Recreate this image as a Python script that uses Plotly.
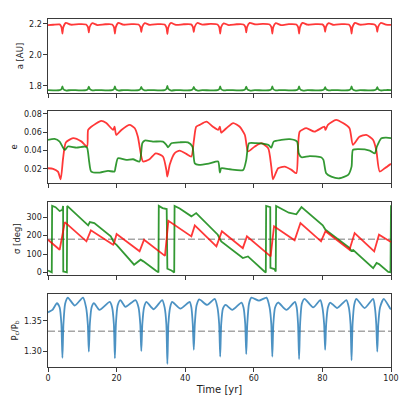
import plotly.graph_objects as go

# --- semi-major axis (knots) ---
t_a = [0, 1.5,
       3.4, 3.95, 4.2, 4.45, 5.2, 6.7, 9.0,
       11.1, 11.65, 11.9, 12.15, 12.9, 14.4, 16.7,
       18.7, 19.25, 19.5, 19.75, 20.5, 22.0, 24.3,
       26.4, 26.95, 27.2, 27.45, 28.2, 29.7, 32.0,
       34.0, 34.55, 34.8, 35.05, 35.8, 37.3, 39.6,
       41.7, 42.25, 42.5, 42.75, 43.5, 45.0, 47.3,
       49.4, 49.95, 50.2, 50.45, 51.2, 52.7, 55.0,
       57.0, 57.55, 57.8, 58.05, 58.8, 60.3, 62.6,
       64.6, 65.15, 65.4, 65.65, 66.4, 67.9, 70.2,
       72.4, 72.95, 73.2, 73.45, 74.2, 75.7, 78.0,
       80.0, 80.55, 80.8, 81.05, 81.8, 83.3, 85.6,
       87.7, 88.25, 88.5, 88.75, 89.5, 91.0, 93.3,
       95.2, 95.75, 96.0, 96.25, 97.0, 98.5, 100]
a_red = [2.193, 2.195,
         2.197, 2.178, 2.138, 2.178, 2.207, 2.195, 2.199,
         2.197, 2.180, 2.145, 2.180, 2.205, 2.193, 2.198,
         2.197, 2.178, 2.138, 2.178, 2.207, 2.195, 2.199,
         2.197, 2.180, 2.147, 2.180, 2.205, 2.194, 2.199,
         2.197, 2.176, 2.134, 2.176, 2.206, 2.194, 2.198,
         2.197, 2.180, 2.147, 2.180, 2.206, 2.196, 2.200,
         2.197, 2.178, 2.138, 2.178, 2.204, 2.193, 2.198,
         2.197, 2.180, 2.145, 2.180, 2.207, 2.198, 2.200,
         2.197, 2.178, 2.138, 2.178, 2.205, 2.193, 2.199,
         2.197, 2.178, 2.138, 2.178, 2.207, 2.195, 2.199,
         2.197, 2.181, 2.149, 2.181, 2.205, 2.194, 2.199,
         2.197, 2.178, 2.138, 2.178, 2.207, 2.195, 2.200,
         2.197, 2.181, 2.149, 2.181, 2.206, 2.196, 2.194]
a_green = [1.772, 1.771,
           1.772, 1.780, 1.797, 1.780, 1.770, 1.773, 1.771,
           1.772, 1.780, 1.795, 1.780, 1.771, 1.773, 1.771,
           1.772, 1.780, 1.797, 1.780, 1.770, 1.773, 1.771,
           1.772, 1.780, 1.794, 1.780, 1.771, 1.773, 1.771,
           1.772, 1.781, 1.799, 1.781, 1.770, 1.773, 1.771,
           1.772, 1.780, 1.794, 1.780, 1.770, 1.772, 1.771,
           1.772, 1.780, 1.797, 1.780, 1.771, 1.773, 1.771,
           1.772, 1.780, 1.795, 1.780, 1.770, 1.772, 1.771,
           1.772, 1.780, 1.797, 1.780, 1.771, 1.773, 1.771,
           1.772, 1.780, 1.797, 1.780, 1.770, 1.772, 1.771,
           1.772, 1.779, 1.792, 1.779, 1.771, 1.773, 1.771,
           1.772, 1.780, 1.797, 1.780, 1.770, 1.772, 1.771,
           1.772, 1.779, 1.792, 1.779, 1.770, 1.773, 1.773]

# --- eccentricity ---
t_e_red = [0, 1.5, 2.9, 3.7, 4.4, 5.2, 7.3, 9.7, 11.4, 11.7, 12.6, 15.5, 17.0, 19.0, 19.4, 19.9,
           21.4, 23.8, 25.3, 26.2, 27.2, 27.7, 29.6, 31.4, 33.5, 34.5, 34.8, 35.5, 36.9, 38.4,
           40.3, 41.8, 42.5, 43.2, 44.2, 46.2, 48.1, 49.6, 50.1, 50.5, 52.0, 54.0, 55.9, 57.4,
           57.8, 58.3, 60.3, 62.2, 64.2, 65.1, 65.6, 67.1, 69.0, 71.0, 72.4, 72.9, 73.4, 75.3,
           77.7, 80.6, 80.9, 81.6, 84.0, 86.0, 87.9, 88.9, 90.8, 92.8, 94.8, 95.7, 96.7, 98.2, 100]
e_red = [0.0207, 0.020, 0.017, 0.0087, 0.0316, 0.0487, 0.0535, 0.050, 0.0444, 0.0625, 0.066,
         0.0724, 0.070, 0.0625, 0.066, 0.057, 0.0625, 0.068, 0.0644, 0.055, 0.0335, 0.028,
         0.0305, 0.037, 0.0335, 0.0189, 0.0116, 0.0247, 0.037, 0.040, 0.0364, 0.0335, 0.050,
         0.066, 0.068, 0.0716, 0.066, 0.0625, 0.066, 0.0596, 0.0644, 0.070, 0.066, 0.057,
         0.048, 0.039, 0.0444, 0.048, 0.0425, 0.0225, 0.0087, 0.0207, 0.0225, 0.0189, 0.0153,
         0.044, 0.0607, 0.0644, 0.0607, 0.066, 0.0625, 0.068, 0.0735, 0.070, 0.0644, 0.0462,
         0.055, 0.0571, 0.0516, 0.0407, 0.0171, 0.0207, 0.0255]
t_e_green = [0, 1.9, 3.4, 4.2, 4.9, 5.8, 8.3, 10.7, 11.4, 12.0, 12.6, 15.1, 17.5, 19.4, 19.7,
             20.4, 22.8, 24.8, 26.7, 27.5, 28.2, 30.6, 33.5, 34.5, 35.0, 36.0, 38.4, 40.8, 42.1,
             42.8, 44.0, 47.1, 49.6, 50.1, 50.5, 53.0, 56.9, 57.8, 58.6, 60.7, 64.2, 65.1, 65.8,
             68.0, 70.5, 72.6, 73.1, 73.9, 76.3, 79.6, 80.3, 81.1, 82.6, 85.0, 87.5, 88.5, 88.9,
             90.4, 93.8, 95.3, 95.9, 97.2, 98.6, 100]
e_green = [0.0516, 0.0527, 0.0498, 0.0444, 0.0407, 0.0444, 0.0433, 0.0444, 0.043, 0.028, 0.0171,
           0.016, 0.0178, 0.0171, 0.022, 0.0316, 0.0298, 0.0305, 0.028, 0.048, 0.0509, 0.0498,
           0.0498, 0.0462, 0.0436, 0.048, 0.049, 0.049, 0.0444, 0.026, 0.0244, 0.026, 0.028,
           0.016, 0.0207, 0.0196, 0.0189, 0.0298, 0.048, 0.048, 0.0462, 0.0433, 0.0498, 0.0516,
           0.0524, 0.0498, 0.037, 0.0327, 0.034, 0.0327, 0.0298, 0.0153, 0.0116, 0.0098, 0.0135,
           0.0225, 0.0407, 0.0415, 0.040, 0.037, 0.0444, 0.0535, 0.054, 0.0535]

# --- resonant angle ---
t_s_red = [0, 3.4, 4.9, 11.2, 12.5, 13.1, 19.0, 19.3, 20.0, 26.7, 28.0, 34.1, 35.1, 41.8, 42.8,
           49.1, 50.7, 56.8, 58.0, 64.9, 65.9, 71.9, 73.6, 79.6, 80.9, 87.9, 89.4, 95.1, 96.5, 100]
s_red = [178, 123, 274, 169, 229, 222, 151, 160, 209, 115, 178, 90, 281, 196, 256,
         142, 224, 132, 196, 87, 251, 175, 269, 169, 224, 123, 214, 114, 205, 165]
t_s_green = [0, 0.8, 1.1, 1.2, 2.2, 3.4, 4.2, 4.4, 4.45, 5.0, 5.5, 5.6, 7.5, 10.7, 11.7, 12.2,
             13.5, 18.3, 19.3, 20.0, 25.1, 27.0, 27.8, 31.5, 32.2, 32.3, 33.4, 34.6, 34.8, 36.0,
             36.8, 36.9, 38.4, 41.8, 43.2, 49.5, 50.5, 56.8, 58.3, 63.1, 63.5, 63.6, 64.6, 64.8,
             64.85, 66.0, 66.4, 66.5, 70.2, 72.4, 73.9, 80.1, 80.9, 87.9, 88.4, 89.0, 94.8, 95.8,
             96.5, 99.2, 99.85, 99.9, 100]
s_green = [10, 3, 0, 362, 355, 334, 340, 362, 5, 3, 0, 362, 330, 278, 256, 274,
           268, 196, 160, 150, 42, 69, 60, 9, 0, 362, 350, 345, 20, 10,
           0, 362, 348, 305, 323, 205, 169, 78, 87, 5, 0, 362, 355, 355,
           25, 18, 5, 362, 325, 316, 355, 256, 232, 133, 117, 122, 23, 51,
           45, 2, 0, 365, 365]

# --- period ratio ---
t_p = [0, 1.3, 2.6, 3.4, 3.9, 4.2, 4.5, 5.0, 5.8, 7.8, 10.2, 11.1, 11.6, 11.9, 12.2, 12.7, 13.4,
       15.0, 18.0, 18.7, 19.2, 19.5, 19.8, 20.3, 21.1, 22.6, 25.5, 26.4, 26.9, 27.2, 27.5, 28.0,
       28.7, 30.8, 33.3, 34.0, 34.5, 34.8, 35.1, 35.6, 36.2, 38.6, 41.3, 41.8, 42.2, 42.5, 42.8,
       43.3, 44.1, 46.4, 48.6, 49.4, 49.9, 50.2, 50.5, 51.0, 51.8, 53.7, 56.4, 57.0, 57.5, 57.8,
       58.1, 58.6, 59.3, 61.5, 63.7, 64.6, 65.1, 65.4, 65.7, 66.2, 67.1, 69.5, 72.0, 72.5, 72.9,
       73.2, 73.5, 74.0, 74.8, 77.3, 79.4, 80.0, 80.5, 80.8, 81.1, 81.6, 82.3, 84.3, 87.0, 87.7,
       88.2, 88.5, 88.8, 89.3, 89.9, 92.3, 94.8, 95.3, 95.7, 96.0, 96.3, 96.8, 97.9, 99.8, 100]
p_ratio = [1.364, 1.368, 1.379, 1.372, 1.345, 1.290, 1.345, 1.378, 1.388, 1.375, 1.388, 1.372,
           1.345, 1.300, 1.345, 1.372, 1.379, 1.368, 1.381, 1.372, 1.345, 1.289, 1.345, 1.375,
           1.384, 1.373, 1.384, 1.372, 1.345, 1.301, 1.345, 1.372, 1.381, 1.369, 1.384, 1.372,
           1.345, 1.280, 1.345, 1.372, 1.381, 1.370, 1.381, 1.372, 1.345, 1.303, 1.345, 1.375,
           1.385, 1.376, 1.386, 1.372, 1.345, 1.292, 1.345, 1.370, 1.376, 1.368, 1.380, 1.372,
           1.345, 1.296, 1.345, 1.378, 1.388, 1.383, 1.388, 1.372, 1.345, 1.292, 1.345, 1.372,
           1.380, 1.368, 1.381, 1.372, 1.345, 1.288, 1.345, 1.378, 1.386, 1.372, 1.384, 1.372,
           1.345, 1.303, 1.345, 1.372, 1.380, 1.371, 1.384, 1.372, 1.345, 1.286, 1.345, 1.377,
           1.386, 1.371, 1.386, 1.372, 1.345, 1.300, 1.345, 1.372, 1.386, 1.370, 1.369]

x_ticks = [0, 20, 40, 60, 80, 100]

RED = 'rgba(255,0,0,0.78)'
GREEN = 'rgba(0,128,0,0.8)'
BLUE = 'rgba(31,119,180,0.8)'
GRAY = 'rgba(128,128,128,0.7)'
LW = 1.8

fig = go.Figure()

def line(x, y, color, ax, shape='linear', dash=None, width=LW):
    fig.add_trace(go.Scatter(
        x=x, y=y, mode='lines', xaxis='x' + ax, yaxis='y' + ax,
        line=dict(color=color, width=width, shape=shape, dash=dash,
                  smoothing=0.6 if shape == 'spline' else None),
        showlegend=False, hoverinfo='skip'
    ))

line(t_a, a_red, RED, '', 'spline')
line(t_a, a_green, GREEN, '', 'spline')
line(t_e_red, e_red, RED, '2', 'spline')
line(t_e_green, e_green, GREEN, '2', 'spline')
line([0, 100], [180, 180], GRAY, '3', dash='7px,3px', width=1.5)
line(t_s_green, s_green, GREEN, '3')
line(t_s_red, s_red, RED, '3')
line([0, 100], [4 / 3, 4 / 3], GRAY, '4', dash='7px,3px', width=1.5)
line(t_p, p_ratio, BLUE, '4', 'spline')

axis_style = dict(
    showline=True, mirror=True, linecolor='#3a3a3a', linewidth=1.2,
    ticks='outside', ticklen=3.5, tickwidth=1, tickcolor='#3a3a3a',
    showgrid=False, zeroline=False, automargin=False,
    tickfont=dict(size=8, color='#222'),
)

# panel domains (bottom, top) in paper fraction
domains = [[0.787, 1.0], [0.529, 0.736], [0.264, 0.474], [0.0, 0.210]]
y_ranges = [[1.753, 2.232], [0.0047, 0.0833], [-15, 383], [1.275, 1.394]]
y_titles = ['a [AU]', 'e', 'σ [deg]', 'P<sub>c</sub>/P<sub>b</sub>']
y_tickvals = [[1.8, 2.0, 2.2], [0.02, 0.04, 0.06, 0.08], [0, 100, 200, 300], [1.30, 1.35]]
y_fmt = ['.1f', '.2f', 'd', '.2f']

layout = dict(
    width=399, height=399,
    paper_bgcolor='white', plot_bgcolor='white',
    font=dict(family='DejaVu Sans', color='#222'),
    margin=dict(l=48, r=8, t=19, b=32),
)
for i in range(4):
    sfx = '' if i == 0 else str(i + 1)
    xa = dict(axis_style, domain=[0, 1], range=[0, 100], anchor='y' + sfx,
              tickvals=x_ticks, showticklabels=(i == 3), ticklabeloverflow='allow')
    if i == 3:
        xa['title'] = dict(text='Time [yr]', font=dict(size=10), standoff=3)
    layout['xaxis' + sfx] = xa
    layout['yaxis' + sfx] = dict(
        axis_style, domain=domains[i], range=y_ranges[i], anchor='x' + sfx,
        tickvals=y_tickvals[i], tickformat=y_fmt[i],
        title=dict(text=y_titles[i], font=dict(size=8.5), standoff=4),
    )

fig.update_layout(**layout)
# drop the default page margin so the figure sits at the window origin
fig.write_html("out.html", config={'displayModeBar': False},
               post_script="document.body.style.margin='0';document.body.style.overflow='hidden';")
